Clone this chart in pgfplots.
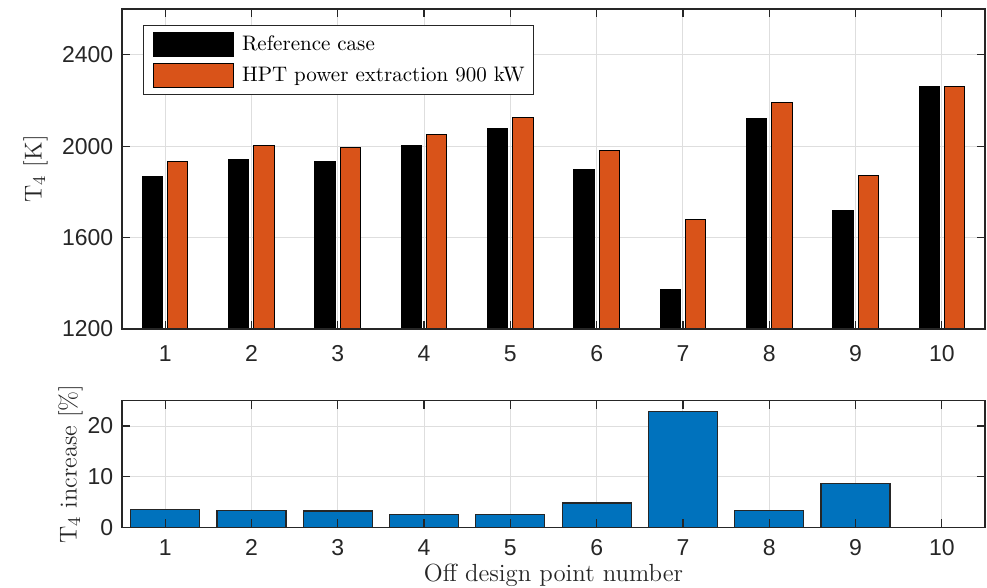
\documentclass[border=0pt]{standalone}
\usepackage{fontspec}
\newfontfamily\ticksans{Liberation Sans}
\usepackage{pgfplots}
\pgfplotsset{compat=1.18}
\definecolor{morange}{rgb}{0.85,0.325,0.098}
\definecolor{mblue}{rgb}{0,0.447,0.741}
\definecolor{axgray}{gray}{0.15}
\definecolor{gridgray}{gray}{0.87}
\pgfplotsset{
  layers/mylayers/.define layer set={axis background,axis grid,main,axis ticks,axis lines,axis tick labels,axis descriptions,axis foreground}{/pgfplots/layers/standard},
  myleg/.style={legend image code/.code={\path (0pt,0pt); \draw[##1] (4.2pt,-6pt) rectangle (44.2pt,6pt);}},
  mystyle/.style={
    set layers=mylayers,
    scale only axis, width=431.5pt,
    xmin=0.5, xmax=10.5,
    xtick={1,2,3,4,5,6,7,8,9,10},
    axis line style={axgray, line width=0.7pt},
    tick style={axgray, line width=0.6pt},
    tick align=inside,
    major tick length=4pt,
    grid=major, grid style={gridgray, line width=0.5pt},
    ticklabel style={font=\fontsize{11.5}{13}\ticksans, text=axgray, inner sep=0pt},
    yticklabel style={anchor=east, xshift=-4.2pt},
    /pgf/number format/assume math mode=true,
    /pgf/number format/set thousands separator={},
    label style={font=\fontsize{12.2}{14}\selectfont, text=axgray, inner sep=0pt},
  }
}
\begin{document}
\begin{tikzpicture}
\path (0,0) rectangle (493.5pt,294pt);
\begin{axis}[mystyle,
  at={(61pt,129.5pt)}, anchor=south west, height=160pt,
  ymin=1200, ymax=2600, ytick={1200,1600,2000,2400},
  xticklabel style={anchor=north, yshift=-8pt},
  ylabel={T$_4$ [K]},
  ylabel style={at={(axis description cs:-0.0856,0.5)}, anchor=south},
  legend style={at={(axis description cs:0,1)}, anchor=north west, xshift=10.5pt, yshift=-8pt,
    draw=axgray, line width=0.6pt, inner xsep=0.5pt, inner ysep=2.9pt, row sep=3pt,
    font=\fontsize{10.5}{12}\selectfont, text=black,
    nodes={inner xsep=4pt}, cells={anchor=west}},
  legend cell align=left,
]
\addplot[ybar, myleg, bar width=0.235, bar shift=-0.147, fill=black, draw=black, line width=0.5pt]
  coordinates {(1,1868) (2,1940) (3,1933) (4,2001) (5,2075) (6,1896) (7,1372) (8,2121) (9,1720) (10,2261)};
\addlegendentry{Reference case}
\addplot[ybar, myleg, bar width=0.235, bar shift=0.147, fill=morange, draw=black, line width=0.5pt]
  coordinates {(1,1933) (2,2001) (3,1995) (4,2050) (5,2125) (6,1983) (7,1679) (8,2192) (9,1872) (10,2260)};
\addlegendentry{HPT power extraction 900 kW}
\end{axis}
\begin{axis}[mystyle,
  at={(61pt,30.35pt)}, anchor=south west, height=63.3pt,
  ymin=0, ymax=25, ytick={0,10,20},
  xticklabel style={anchor=north, yshift=-6pt},
  ylabel={T$_4$ increase [\%]},
  ylabel style={at={(axis description cs:-0.0451,0.5)}, anchor=south},
  xlabel={Off design point number},
  xlabel style={at={(axis description cs:0.5,0)}, anchor=north, yshift=-18.3pt, font=\fontsize{12.4}{14}\selectfont},
]
\addplot[ybar, bar width=0.8, fill=mblue, draw=axgray, line width=0.6pt]
  coordinates {(1,3.55) (2,3.3) (3,3.2) (4,2.5) (5,2.5) (6,4.8) (7,22.8) (8,3.3) (9,8.6) (10,0)};
\end{axis}
\end{tikzpicture}
\end{document}
